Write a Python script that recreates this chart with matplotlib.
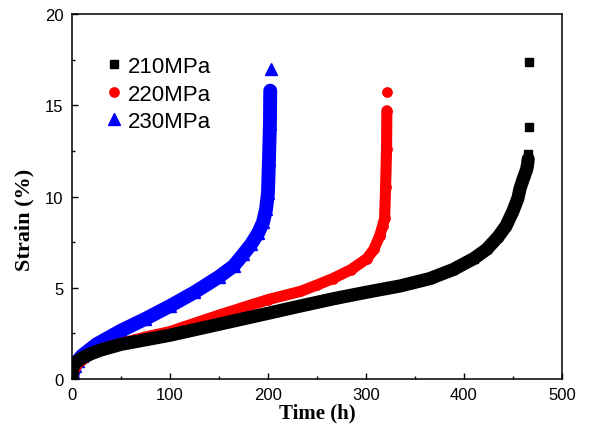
import matplotlib.pyplot as plt
from matplotlib.ticker import MultipleLocator

# 210 MPa creep curve (time in h, strain in %)
t_210 = [0, 0.5, 1, 3, 6, 10, 20, 30, 50, 75, 100, 150, 200, 233, 267, 300, 335,
         365, 389, 410, 423, 435, 443, 450, 455, 457, 460, 462, 464, 465, 465.5]
s_210 = [0, 0.5, 0.7, 0.85, 1.0, 1.15, 1.4, 1.6, 1.9, 2.15, 2.4, 3.0, 3.6, 4.0,
         4.4, 4.75, 5.1, 5.5, 6.0, 6.6, 7.1, 7.8, 8.4, 9.2, 9.9, 10.4, 10.9,
         11.2, 11.5, 11.8, 12.05]
tail_t_210 = [465.8, 466.2, 466.5]
tail_s_210 = [12.35, 13.8, 17.35]

# 220 MPa
t_220 = [0, 1, 3, 6, 10, 20, 30, 50, 75, 100, 150, 200, 233, 250, 266, 285,
         301, 308, 314, 317, 319, 320, 321, 321.3]
s_220 = [0, 0.3, 0.6, 0.85, 1.05, 1.4, 1.65, 1.95, 2.3, 2.6, 3.5, 4.35, 4.8,
         5.15, 5.5, 6.0, 6.6, 7.1, 7.85, 8.4, 8.8, 10.5, 12.6, 14.7]
tail_t_220 = [321.7]
tail_s_220 = [15.75]

# 230 MPa
t_230 = [0, 1, 3, 6, 10, 25, 50, 75, 100, 125, 150, 165, 175, 183, 190, 195,
         198, 200, 201, 202, 202.3]
s_230 = [0, 0.35, 0.7, 1.0, 1.27, 1.9, 2.65, 3.3, 4.0, 4.75, 5.6, 6.2, 6.85,
         7.4, 8.0, 8.6, 9.3, 10.2, 12.0, 14.0, 15.8]
tail_t_230 = [202.7]
tail_s_230 = [17.0]

series = [
    ("210MPa", t_210, s_210, tail_t_210, tail_s_210, "black", "s", 6.3, 9.5),
    ("220MPa", t_220, s_220, tail_t_220, tail_s_220, "red", "o", 6.7, 8),
    ("230MPa", t_230, s_230, tail_t_230, tail_s_230, "blue", "^", 8.5, 10),
]

fig = plt.figure(figsize=(5.92, 4.31), dpi=100)
ax = fig.add_axes([0.1216, 0.1183, 0.8277, 0.8469])

handles = []
for label, t, s, tt, ts, color, marker, ms, lw in reversed(series):
    ax.plot(t, s, color=color, lw=lw, solid_capstyle="round", solid_joinstyle="round")
    ax.plot(t, s, ls="none", marker=marker, ms=ms, color=color, mec=color)
    ax.plot(tt, ts, ls="none", marker=marker, ms=ms, color=color, mec=color)

for label, t, s, tt, ts, color, marker, ms, lw in series:
    h, = ax.plot([], [], ls="none", marker=marker, ms=ms, color=color, label=label)
    handles.append(h)

ax.set_xlim(0, 500)
ax.set_ylim(0, 20)
ax.xaxis.set_major_locator(MultipleLocator(100))
ax.xaxis.set_minor_locator(MultipleLocator(50))
ax.yaxis.set_major_locator(MultipleLocator(5))
ax.yaxis.set_minor_locator(MultipleLocator(2.5))
ax.tick_params(which="both", direction="in", top=False, right=False)
ax.tick_params(which="major", length=4, width=1, labelsize=12, pad=6)
ax.tick_params(which="minor", length=2.5, width=1)
for lab in ax.get_xticklabels() + ax.get_yticklabels():
    lab.set_family("Liberation Sans")
for sp in ax.spines.values():
    sp.set_linewidth(1.1)

ax.set_xlabel("Time (h)", family="Liberation Serif", weight="bold", fontsize=15, labelpad=0)
ax.set_ylabel("Strain (%)", family="Liberation Serif", weight="bold", fontsize=16)
ax.yaxis.set_label_coords(-0.076, 0.44)

leg = ax.legend(handles=handles, loc="upper left", bbox_to_anchor=(0.03, 0.94),
                frameon=False, numpoints=1, handlelength=0.7, handletextpad=0.25,
                labelspacing=0.3, prop={"family": "Liberation Sans", "size": 16})

plt.savefig("out.png", dpi=100)
